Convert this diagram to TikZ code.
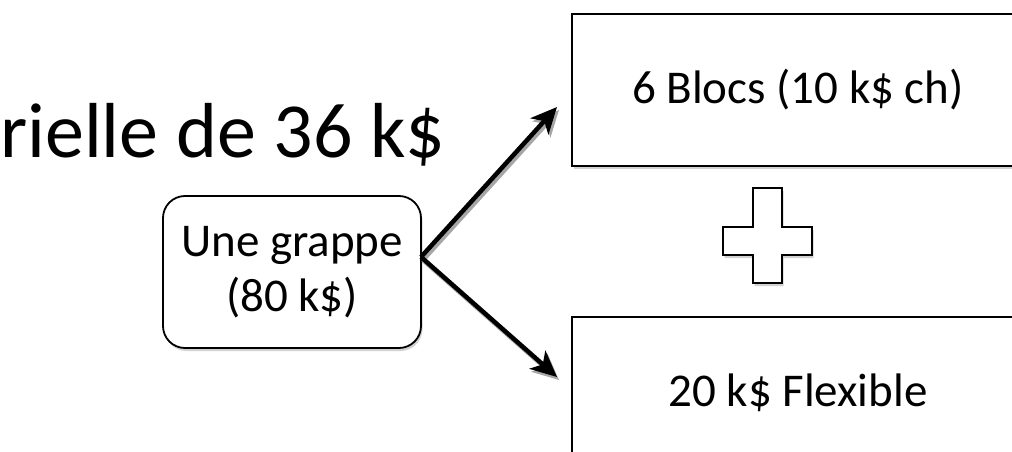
\documentclass[tikz,border=0pt]{standalone}
\usepackage{fontspec}
\setmainfont{Carlito}
\usetikzlibrary{arrows.meta,shadows}

\begin{document}
\begin{tikzpicture}[x=1pt,y=1pt,
    ombre/.style={drop shadow={shadow xshift=1.5pt,shadow yshift=-3pt,fill=gray!70}},
    grappe/.style={draw,line width=1.8pt,rounded corners=22pt,fill=white,ombre,
        minimum width=258pt,minimum height=152pt,align=center,
        font=\fontsize{47}{55}\selectfont},
    bloc/.style={draw,line width=1.8pt,fill=white,ombre,
        minimum width=452pt,minimum height=152pt,
        font=\fontsize{47}{55}\selectfont},
    fleche/.style={line width=4.5pt,-{Stealth[length=26pt,width=24pt,inset=7pt]}}]
    \useasboundingbox (0,0) rectangle (1012,451);
    \node [anchor=base west,inner sep=0pt,font=\fontsize{78}{90}\selectfont] (titre) at (0,294) {rielle de 36 k\$};
    \node [grappe] (une) at (292,179) {Une grappe\\(80 k\$)};
    \node [bloc] (blocs) at (798,361) {6 Blocs (10 k\$ ch)};
    \node [bloc] (flex) at (798,58) {20 k\$ Flexible};
    \coordinate (depart) at (421,194);
    \coordinate (haut) at (557,344);
    \coordinate (bas) at (557,74);
    % ombres des fleches
    \draw [fleche,gray!70] ([shift={(2pt,-3pt)}]depart) -- ([shift={(2pt,-3pt)}]haut);
    \draw [fleche,gray!70] ([shift={(2pt,-3pt)}]depart) -- ([shift={(2pt,-3pt)}]bas);
    \draw [fleche] (depart) -- (haut);
    \draw [fleche] (depart) -- (bas);
    % le signe plus
    \draw [line width=1.8pt,fill=white,ombre] (753,263) -- (782,263) -- (782,224) -- (812,224)
        -- (812,196) -- (782,196) -- (782,168) -- (753,168) -- (753,196) -- (723,196)
        -- (723,224) -- (753,224) -- cycle;
\end{tikzpicture}
\end{document}
